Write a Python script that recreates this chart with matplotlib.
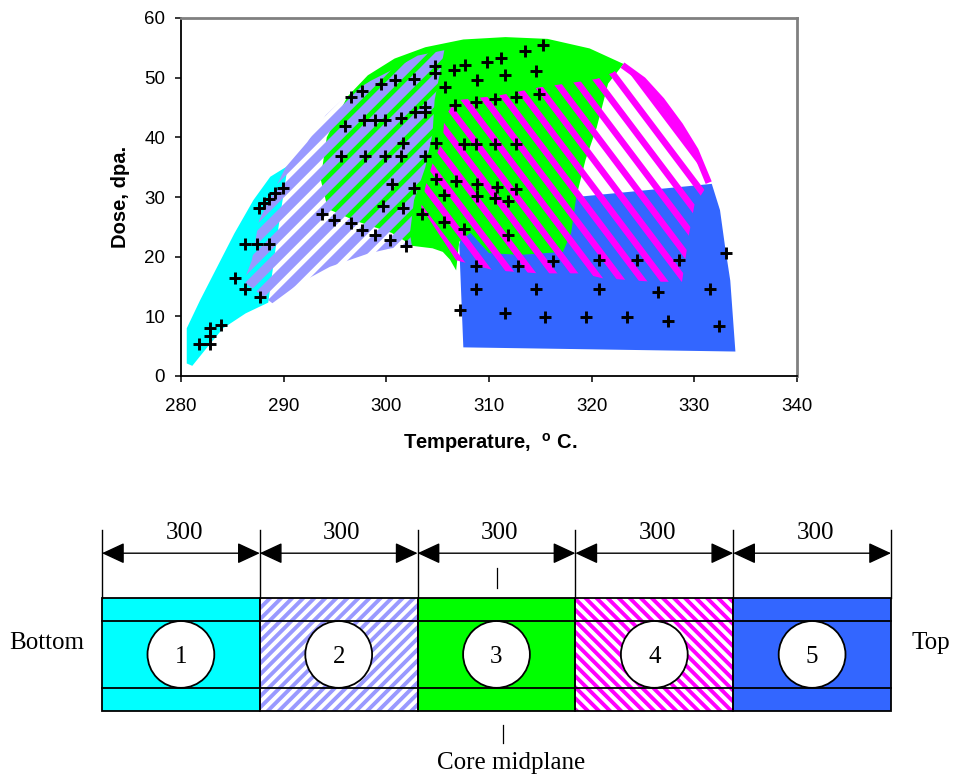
import numpy as np
import matplotlib.pyplot as plt
import matplotlib as mpl
from matplotlib.patches import Polygon, Rectangle, Circle, FancyArrowPatch

mpl.rcParams['font.family'] = 'Liberation Sans'
mpl.rcParams['mathtext.fontset'] = 'custom'
mpl.rcParams['mathtext.rm'] = 'Liberation Sans'
mpl.rcParams['mathtext.bf'] = 'Liberation Sans:bold'

# ---- irradiation points (temperature, C / dose, dpa) ----
temp_pts = [281.8, 282.8, 282.8, 282.8, 283.85, 285.25, 286.25, 287.65,
            286.25, 287.45, 288.6, 287.55, 288.1, 288.6, 289.2, 289.9,
            293.75, 294.92, 296.55, 297.65, 298.85, 300.35, 301.9,
            295.6, 297.9, 299.85, 301.4, 303.75,
            296.0, 297.8, 298.85, 299.9, 301.4, 302.75, 303.75, 303.75,
            296.6, 297.65, 299.45, 300.85, 302.7, 304.75, 304.75, 305.75,
            301.65, 304.8, 300.6, 302.7, 299.65, 301.65, 303.45,
            304.8, 305.65, 306.75, 305.65, 307.6,
            308.8, 308.8, 310.8, 310.55, 311.85, 312.6, 311.85,
            307.55, 308.75, 310.55, 312.6,
            306.7, 308.75, 310.6, 312.6, 314.9,
            306.55, 307.7, 309.8, 311.2, 311.6, 308.85, 313.55, 315.25, 314.6,
            307.2, 308.75, 308.75, 311.6, 312.85, 314.6, 315.5, 316.2, 319.45,
            320.7, 320.7, 323.4, 324.4, 326.45, 327.4, 328.5, 333.1, 331.5, 332.45]
dose_pts = [5.35, 5.35, 6.7, 8.1, 8.5, 16.5, 14.6, 13.3,
            22.2, 22.2, 22.2, 28.1, 29.0, 29.7, 30.7, 31.5,
            27.2, 26.2, 25.65, 24.5, 23.55, 22.85, 21.75,
            36.95, 36.95, 36.95, 36.95, 36.95,
            41.85, 42.95, 42.95, 42.95, 43.3, 44.3, 44.2, 45.1,
            46.75, 47.75, 48.95, 49.65, 49.8, 51.9, 50.8, 48.5,
            39.0, 39.0, 32.1, 31.45, 28.45, 28.1, 27.15,
            32.95, 30.4, 32.65, 25.8, 24.65,
            30.2, 32.1, 31.7, 29.75, 29.4, 31.4, 23.55,
            38.95, 38.95, 38.95, 38.95,
            45.35, 45.95, 46.35, 46.75, 47.25,
            51.35, 52.1, 52.6, 53.35, 50.4, 49.65, 54.45, 55.5, 51.1,
            11.0, 18.45, 14.55, 10.5, 18.45, 14.55, 9.85, 19.3, 9.85,
            19.4, 14.6, 9.85, 19.4, 14.1, 9.3, 19.4, 20.6, 14.5, 8.4]

# ---- outlines of the five zones in the (temperature, dose) plane ----
zone1_t = [280.56, 280.56, 281.86, 283.35, 285.2, 287.06, 288.7, 290.4,
           289.5, 288.5, 286.3, 284.1, 282.6, 281.1]
zone1_d = [2.1, 8.0, 12.7, 17.7, 23.9, 29.5, 33.4, 35.2,
           25.0, 12.3, 10.5, 8.0, 4.9, 1.7]

zone2_t = [286.1, 286.9, 287.6, 290.2, 292.3, 294.1, 296.0, 298.5, 300.8,
           303.05, 305.65, 304.7, 304.5, 303.8, 302.7, 302.3, 302.5,
           300.45, 298.2, 294.5, 291.5, 288.9]
zone2_d = [15.8, 19.4, 26.1, 35.0, 39.2, 43.7, 46.8, 49.5, 51.5,
           53.7, 54.6, 46.2, 40.6, 35.0, 29.5, 23.9, 21.7,
           21.4, 20.5, 18.3, 15.5, 12.2]

zone3_t = [296.2, 298.2, 300.8, 303.8, 307.5, 311.6, 315.7, 319.8, 323.1,
           321.6, 320.5, 319.4, 318.5, 318.0, 317.2, 313.0, 310.0, 308.2,
           307.1, 306.8, 306.2, 305.5, 304.5, 302.6, 300.5, 297.0, 294.3,
           293.6, 294.2]
zone3_d = [46.8, 50.4, 53.2, 55.1, 56.4, 56.8, 56.5, 54.9, 52.3,
           49.0, 41.7, 36.2, 30.0, 24.0, 20.8, 20.3, 20.6, 24.0,
           22.5, 17.7, 19.5, 20.8, 21.4, 21.8, 24.0, 26.0, 28.0,
           33.0, 40.0]

zone4_t = [310.5, 306.8, 303.4, 303.8, 304.5, 305.5, 305.65, 306.8, 310.9,
           315.0, 318.7, 320.5, 322.0, 323.1, 325.0, 326.8, 328.6, 330.1,
           331.4, 330.0, 329.5, 328.8, 325.9, 321.0, 319.1, 314.9]
zone4_d = [17.7, 19.4, 28.3, 31.7, 35.6, 39.5, 43.4, 46.2, 47.0,
           48.4, 49.3, 49.8, 50.8, 52.1, 49.5, 46.2, 42.0, 37.8,
           32.3, 28.6, 23.9, 15.8, 15.8, 16.4, 17.2, 17.2]
# outer arc of zone 4
arc4_t = [323.0, 325.0, 326.8, 328.6, 330.1, 331.4]
arc4_d = [52.1, 49.6, 46.2, 42.0, 37.8, 32.4]

zone5_t = [307.5, 307.1, 308.0, 318.5, 331.7, 332.5, 333.0, 333.5, 334.0]
zone5_d = [4.8, 22.0, 28.3, 30.0, 32.2, 27.8, 21.6, 16.0, 4.1]

# ---- core scheme (mm) ----
seg_len = [300, 300, 300, 300, 300]
seg_names = ['1', '2', '3', '4', '5']

CYAN = '#00FFFF'
LAV = '#9999FF'
GREEN = '#00FF00'
MAG = '#FF00FF'
BLUE = '#3366FF'


def stripes(ax, patch, k, c0, period, color, lw, xlim, ylim, zorder):
    # parallel bands y = k*(x - c), clipped to the patch
    x0, x1 = xlim
    y0, y1 = ylim
    ends = [x0 - y0 / k, x0 - y1 / k, x1 - y0 / k, x1 - y1 / k]
    cmin, cmax = min(ends), max(ends)
    start = c0 + np.floor((cmin - c0) / period) * period
    for c in np.arange(start, cmax + period, period):
        ln, = ax.plot([x0, x1], [k * (x0 - c), k * (x1 - c)], color=color,
                      lw=lw, solid_capstyle='butt', zorder=zorder)
        ln.set_clip_path(patch)


fig = plt.figure(figsize=(9.54, 7.79), dpi=100)
W, H = 954, 779

# ================= top chart =================
ax = fig.add_axes([181 / W, (H - 376) / H, 616 / W, 358 / H])
xmin, xmax, ymin, ymax = 280, 340, 0, 60
sx = 616 / (xmax - xmin)   # px per degree
sy = 358 / (ymax - ymin)   # px per dpa

ax.add_patch(Polygon(np.column_stack([zone1_t, zone1_d]), fc=CYAN, ec='none', zorder=1))
ax.add_patch(Polygon(np.column_stack([zone5_t, zone5_d]), fc=BLUE, ec='none', zorder=1.5))
ax.add_patch(Polygon(np.column_stack([zone3_t, zone3_d]), fc=GREEN, ec='none', zorder=2))

clip2 = Polygon(np.column_stack([zone2_t, zone2_d]), fc='none', ec='none')
ax.add_patch(clip2)
stripes(ax, clip2, np.tan(np.radians(45)) * sx / sy, 273.92, 20 / sx, LAV, 6.8,
        (280, 310), (0, 60), 3)

clip4 = Polygon(np.column_stack([zone4_t, zone4_d]), fc='none', ec='none')
ax.add_patch(clip4)
stripes(ax, clip4, -np.tan(np.radians(53)) * sx / sy, 344.25, 21 / sx, MAG, 4.7,
        (300, 336), (0, 60), 4)
ax.plot(arc4_t, arc4_d, color=MAG, lw=4.7, solid_capstyle='butt', zorder=4)

ax.plot(temp_pts, dose_pts, ls='none', marker='+', ms=8, mew=2.1,
        color='black', zorder=6)

ax.set_xlim(xmin, xmax)
ax.set_ylim(ymin, ymax)
ax.set_xticks(np.arange(280, 341, 10))
ax.set_yticks(np.arange(0, 61, 10))
ax.tick_params(direction='out', length=4.5, width=1.1, labelsize=13.5)
ax.tick_params(axis='x', pad=11)
ax.tick_params(axis='y', pad=7)
for s in ['left', 'bottom']:
    ax.spines[s].set_color('black')
    ax.spines[s].set_linewidth(1.3)
for s in ['top', 'right']:
    ax.spines[s].set_color('#808080')
    ax.spines[s].set_linewidth(2)

fig.text(490 / W, (H - 443) / H, r'Temperature,  $^{\mathbf{o}}$ C.', fontsize=14.5,
         fontweight='bold', ha='center', va='center')
fig.text(120 / W, (H - 197) / H, 'Dose, dpa.', fontsize=14.5, fontweight='bold',
         rotation=90, ha='center', va='center')

# ================= core scheme =================
ppm = 789 / sum(seg_len)          # px per mm
dax = fig.add_axes([0, 0, 1, 289 / H])
dax.set_xlim(-102 / ppm, (W - 102) / ppm)
dax.set_ylim(-(H - 711) / ppm, (711 - 490) / ppm)
dax.axis('off')

edges = np.concatenate([[0], np.cumsum(seg_len)])
box_h = 215
row_lo, row_hi = 44, 171
fills = [CYAN, 'white', GREEN, 'white', BLUE]

for i, name in enumerate(seg_names):
    a, b = edges[i], edges[i + 1]
    rect = Rectangle((a, 0), b - a, box_h, fc=fills[i], ec='none', zorder=1)
    dax.add_patch(rect)
    if i == 1:
        stripes(dax, rect, 1.0, 0.0, 21, LAV, 2.8, (a - 50, b + 50), (0, box_h), 2)
    if i == 3:
        stripes(dax, rect, -1.0, 0.0, 21, MAG, 2.8, (a - 50, b + 50), (0, box_h), 2)
    dax.add_patch(Rectangle((a, 0), b - a, box_h, fc='none', ec='black', lw=1.3, zorder=4))
    cx = (a + b) / 2
    dax.add_patch(Circle((cx, (row_lo + row_hi) / 2), (row_hi - row_lo) / 2,
                         fc='white', ec='black', lw=1.3, zorder=5))
    dax.text(cx, (row_lo + row_hi) / 2, name, family='Liberation Serif', fontsize=18,
             ha='center', va='center_baseline', zorder=6)
    # dimension arrow
    dax.add_patch(FancyArrowPatch((a, 300), (b, 300),
                                  arrowstyle='<|-|>,head_length=14,head_width=6.5',
                                  mutation_scale=1, shrinkA=0, shrinkB=0,
                                  color='black', lw=1.0, zorder=5))
    dax.text(cx + 6, 338, str(seg_len[i]), family='Liberation Serif', fontsize=18,
             ha='center', va='center')

for r in [row_lo, row_hi]:
    dax.plot([edges[0], edges[-1]], [r, r], color='black', lw=1.3, zorder=4)
for e in edges:
    dax.plot([e, e], [box_h, 344], color='black', lw=1.0, zorder=4)

mid = sum(seg_len) / 2
dax.plot([mid + 1, mid + 1], [234, 272], color='black', lw=0.9)
dax.plot([mid + 12, mid + 12], [-27, -61], color='black', lw=0.9)
dax.text(mid + 27, -99, 'Core midplane', family='Liberation Serif', fontsize=18,
         ha='center', va='center')
dax.text(-105, 129, 'Bottom', family='Liberation Serif', fontsize=18,
         ha='center', va='center')
dax.text(1576, 129, 'Top', family='Liberation Serif', fontsize=18,
         ha='center', va='center')

plt.savefig('out.png', dpi=100)
